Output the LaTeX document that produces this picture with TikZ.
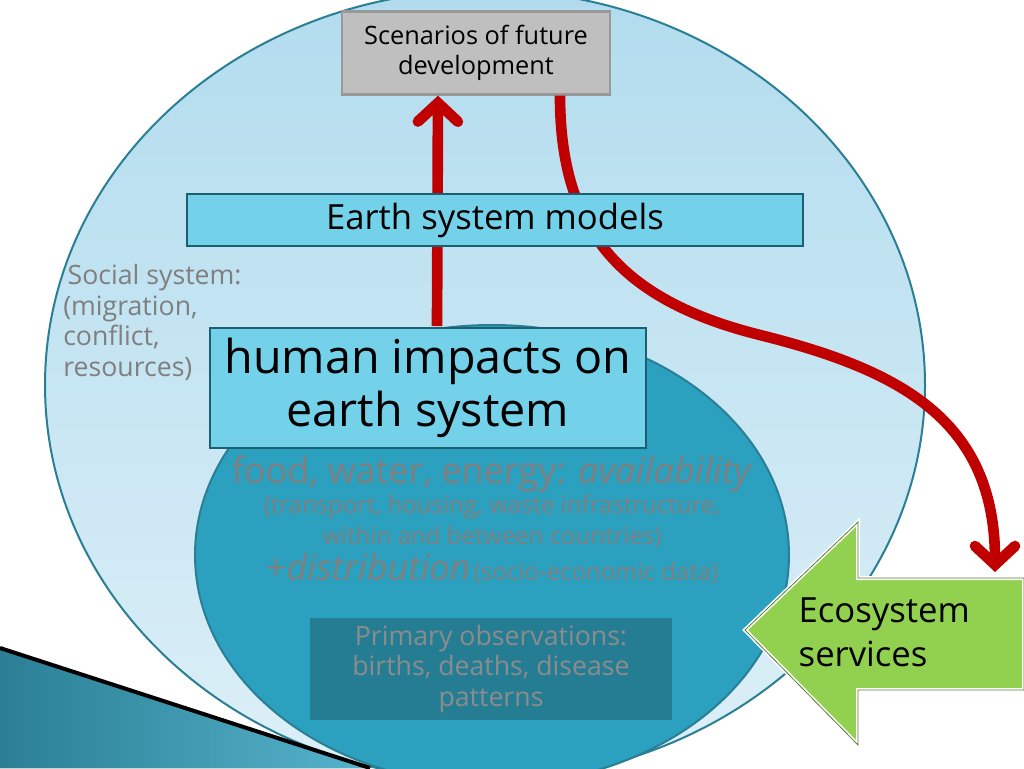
\documentclass[tikz,border=0pt]{standalone}
\usepackage{fontspec}
\setmainfont{Open Sans}
\definecolor{SkyFill}{HTML}{A9D8EC}
\definecolor{SeaFill}{HTML}{2BA0BF}
\definecolor{RimBlue}{HTML}{2A7F95}
\definecolor{BoxCyan}{HTML}{73D2EA}
\definecolor{BoxEdge}{HTML}{1D5F70}
\definecolor{ArrowRed}{HTML}{C00000}
\definecolor{LeafGreen}{HTML}{92D050}
\definecolor{SoftText}{HTML}{7F7F7F}
\usetikzlibrary{arrows.meta,positioning}
\begin{document}
\begin{tikzpicture}[
  x=0.75pt, y=-0.75pt,
  modelbox/.style={
    rectangle, draw=BoxEdge, line width=2pt, fill=BoxCyan,
    inner sep=0pt, align=center
  },
  scenbox/.style={
    rectangle, draw=gray!80, line width=2pt, fill=gray!50,
    inner sep=0pt, align=center, font=\fontsize{19}{23}\selectfont
  },
  flow/.style={
    ArrowRed, line width=8pt,
    -{Straight Barb[length=14pt,width=30pt,line cap=round]}
  },
  softtext/.style={text=SoftText, align=center, inner sep=0pt}
]
  \useasboundingbox (0,0) rectangle (1024,768);
  \fill[white] (0,0) rectangle (1024,768);
  % outer and inner spheres
  \draw[RimBlue, line width=1.5pt, top color=SkyFill!90, bottom color=SkyFill!40]
    (485,385) ellipse [x radius=440, y radius=395];
  \draw[RimBlue, line width=1.5pt, fill=SeaFill]
    (492,555) ellipse [x radius=297, y radius=230];
  % bottom-left swoosh
  \fill[left color=RimBlue, right color=SeaFill!80] (0,648) -- (370,768) -- (0,768) -- cycle;
  \draw[black, line width=3pt] (0,648) -- (370,768);

  % boxes
  \node[scenbox, minimum width=201pt, minimum height=62pt] (scen)
    at (476,53) {Scenarios of future\\development};

  % connectors
  \coordinate (upfoot) at (437,326);
  \coordinate (downend) at (995,572);
  \draw[flow] (upfoot) -- ([xshift=-28.5pt]scen.south);
  \draw[flow] ([xshift=63pt]scen.south) .. controls (560,230) and (620,300)
    .. (760,335) .. controls (900,370) and (995,420) .. (downend);

  \node[modelbox, minimum width=462pt, minimum height=39pt,
    font=\fontsize{26}{30}\selectfont] (esm) at (495,220) {Earth system models};
  \node[modelbox, minimum width=327pt, minimum height=90pt,
    font=\fontsize{35}{40}\selectfont] (human) at (428,388)
    {human impacts on\\earth system};

  % texts
  \node[softtext, anchor=north west, align=left,
    font=\fontsize{20}{23}\selectfont] (social) at (63,264)
    {\,Social system:\\(migration,\\conflict,\\resources)};
  \node[softtext, font=\fontsize{27}{30}\selectfont] (food) at (492,474)
    {food, water, energy: \textit{availability}};
  \node[softtext, font=\fontsize{18}{23}\selectfont, below=2pt of food] (infra)
    {(transport, housing, waste infrastructure,\\within and between countries)};
  \node[softtext, below=3pt of infra] (distr)
    {{\fontsize{27}{30}\selectfont +\textit{distribution}}
     {\fontsize{18}{22}\selectfont (socio-economic data)}};
  \node[rectangle, fill=RimBlue!80!black, fill opacity=0.6, text opacity=1,
    text=SoftText!90, minimum width=272pt, minimum height=77pt,
    font=\fontsize{20}{23}\selectfont, align=center] (obs) at (491,669)
    {Primary observations:\\births, deaths, disease\\patterns};

  % ecosystem services arrow
  \draw[white, line width=3pt, fill=LeafGreen]
    (745,630) -- (858,522) -- (858,578) -- (1024,578) -- (1024,690)
    -- (858,690) -- (858,745) -- cycle;
  \draw[LeafGreen!60!black, line width=0.6pt]
    (745,630) -- (858,522) -- (858,578) -- (1024,578) -- (1024,690)
    -- (858,690) -- (858,745) -- cycle;
  \node[align=left, font=\fontsize{26}{33}\selectfont, anchor=west]
    (eco) at (794,632) {Ecosystem\\services};
\end{tikzpicture}
\end{document}
